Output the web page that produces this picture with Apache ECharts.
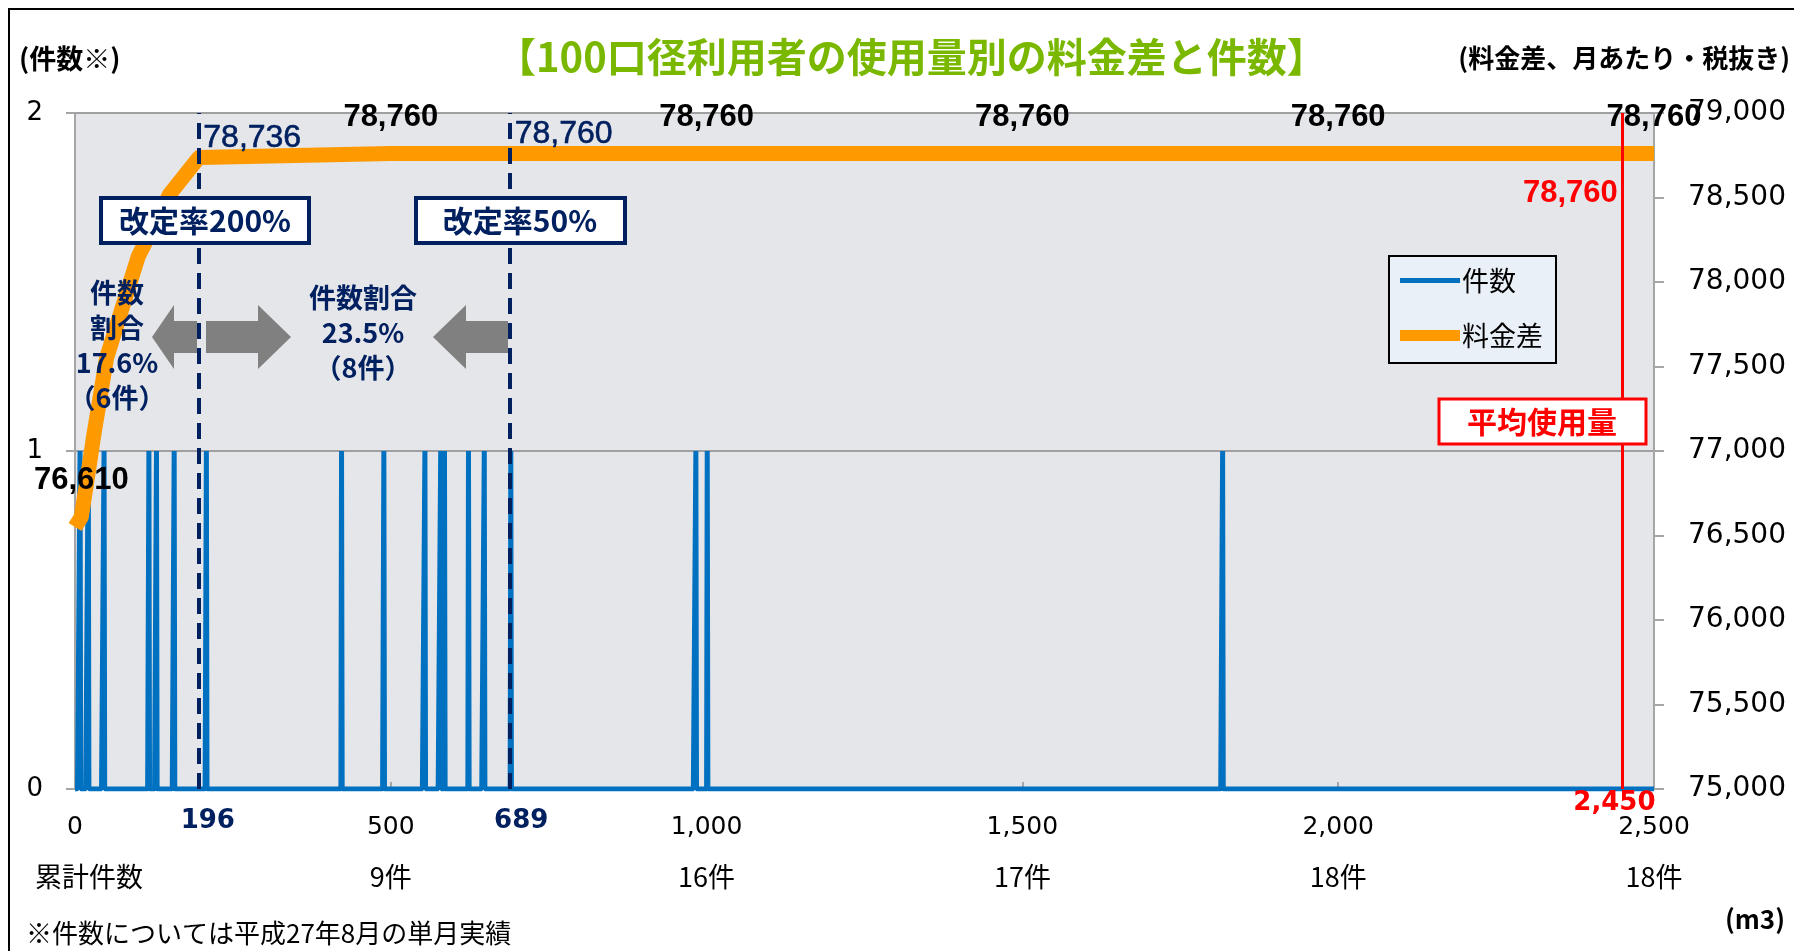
<!DOCTYPE html>
<html lang="ja">
<head>
<meta charset="utf-8">
<title>100口径利用者の使用量別の料金差と件数</title>
<script src="https://cdn.jsdelivr.net/npm/echarts@6/dist/echarts.min.js"></script>
<style>
  html, body { margin: 0; padding: 0; background: #fff; }
  #chart { width: 1794px; height: 951px; }
</style>
</head>
<body>
<div id="chart"></div>
<script>
// 件数：1件ずつ実績のあった使用量(m3)
const countUsage = [8, 21, 46, 117, 129, 157, 208, 422, 489, 554, 579, 585, 623, 648, 690, 983, 1001, 1817]
const usageMax = 2500

// 料金差（月あたり・税抜き）
const feeUsage = [0, 10, 20, 30, 50, 100, 150, 196, 500, 689, 1000, 1500, 2000, 2500]
const feeDiff = [76550, 76610, 76850, 77100, 77550, 78150, 78520, 78736, 78760, 78760, 78760, 78760, 78760, 78760]

// 軸の目盛と累計件数
const xTicks = [0, 500, 1000, 1500, 2000, 2500]
const cumCounts = ['累計件数', '9件', '16件', '17件', '18件', '18件']

// 改定率の境目と平均使用量
const rateLines = [196, 689]
const rateNames = ['改定率200%', '改定率50%']
const avgUsage = 2450
const avgFee = 78760

// ラベルを付ける点
const blackLabelAt = [10, 500, 1000, 1500, 2000, 2500]
const navyLabelAt = [196, 689]

const JP = "'Noto Sans CJK JP', sans-serif"
const NUM = "'DejaVu Sans', sans-serif"
const ARIAL = "'Liberation Sans', Arial, sans-serif"
const NAVY = '#002060'
const BLUE = '#0070C0'
const ORANGE = '#FF9900'
const GRAY = '#A6A6A6'

const fmt = v => v.toLocaleString('en-US')

// 件数は使用量ごとの件数（実績のない使用量は0件）
const countData = []
for (let u = 0; u <= usageMax; u++) countData.push([u, 0])
countUsage.forEach(u => { countData[u][1] += 1 })

const feeData = feeUsage.map((u, i) => {
  const item = { value: [u, feeDiff[i]] }
  if (blackLabelAt.includes(u)) {
    item.label = {
      show: true, position: 'top', distance: 20, formatter: fmt(feeDiff[i]),
      color: '#000', fontSize: 31, fontWeight: 'bold', fontFamily: ARIAL
    }
  }
  if (navyLabelAt.includes(u)) {
    item.label = {
      show: true, position: [5, -19], align: 'left', verticalAlign: 'middle',
      formatter: fmt(feeDiff[i]), color: NAVY, fontSize: 32, fontFamily: ARIAL,
      textBorderColor: NAVY, textBorderWidth: 0.6
    }
  }
  return item
})

const ratePad = [18, 22]
const rateMarks = rateLines.map((u, i) => ({
  xAxis: u,
  lineStyle: { color: NAVY, width: 4, type: [16, 9] },
  label: {
    show: true, position: 'start', distance: 19, formatter: fmt(u),
    color: NAVY, fontSize: 26, fontWeight: 'bold', fontFamily: NUM,
    padding: [0, 0, 0, ratePad[i]]
  }
}))
rateMarks.push({
  xAxis: avgUsage,
  lineStyle: { color: '#FF0000', width: 3, type: 'solid' },
  label: {
    show: true, position: 'start', distance: 1, formatter: fmt(avgUsage),
    color: '#FF0000', fontSize: 26, fontWeight: 'bold', fontFamily: NUM,
    padding: [0, 16, 0, 0]
  }
})

const chart = echarts.init(document.getElementById('chart'))

const option = {
  animation: false,
  title: [
    {
      text: '【100口径利用者の使用量別の料金差と件数】', left: 496, top: 37, padding: 0,
      textStyle: { color: '#7AB800', fontSize: 40, fontWeight: 'bold', fontFamily: JP }
    },
    {
      text: '(件数※)', left: 19, top: 45, padding: 0,
      textStyle: { color: '#000', fontSize: 27, fontWeight: 'bold', fontFamily: JP }
    },
    {
      text: '(料金差、月あたり・税抜き)', right: 4, top: 45, padding: 0,
      textStyle: { color: '#000', fontSize: 26, fontWeight: 'bold', fontFamily: JP }
    },
    {
      text: '(m3)', right: 9, top: 906, padding: 0,
      textStyle: { color: '#000', fontSize: 26, fontWeight: 'bold', fontFamily: JP }
    },
    {
      text: '※件数については平成27年8月の単月実績', left: 26, top: 920, padding: 0,
      textStyle: { color: '#000', fontSize: 26, fontWeight: 'normal', fontFamily: JP }
    }
  ],
  legend: {
    data: [
      { name: '件数', icon: 'path://M0,0H58V5H0Z' },
      { name: '料金差', icon: 'path://M0,0H60V11H0Z' }
    ],
    orient: 'vertical',
    left: 1389,
    top: 256,
    itemWidth: 60,
    itemHeight: 14,
    itemGap: 28,
    padding: [11, 13, 14, 11],
    backgroundColor: '#EAF0F7',
    borderColor: '#000',
    borderWidth: 2,
    selectedMode: false,
    textStyle: { color: '#000', fontSize: 27, fontFamily: JP, padding: [0, 0, 0, -3] }
  },
  grid: {
    left: 75, right: 140, top: 113, bottom: 162,
    show: true, backgroundColor: '#E5E6EA', borderWidth: 0,
    containLabel: false, outerBoundsMode: 'none'
  },
  xAxis: {
    type: 'value', min: 0, max: usageMax, interval: 500,
    axisLine: { show: true, lineStyle: { color: GRAY, width: 2 } },
    axisTick: { show: true, inside: true, length: 7, lineStyle: { color: GRAY, width: 2 } },
    splitLine: { show: false },
    axisLabel: {
      margin: 13, showMinLabel: true, showMaxLabel: true,
      formatter: v => {
        const i = xTicks.indexOf(v)
        const key = i === 0 ? 'c0' : 'c'
        return '{v|' + fmt(v) + '}\n{' + key + '|' + cumCounts[i] + '}'
      },
      rich: {
        v: { fontSize: 25, fontFamily: NUM, color: '#000', lineHeight: 50 },
        c: { fontSize: 27, fontFamily: JP, color: '#000', lineHeight: 50 },
        c0: { fontSize: 27, fontFamily: JP, color: '#000', lineHeight: 50, padding: [0, 0, 0, 28] }
      }
    }
  },
  yAxis: [
    {
      type: 'value', min: 0, max: 2, interval: 1, position: 'left',
      axisLine: { show: true, lineStyle: { color: GRAY, width: 2 } },
      axisTick: { show: true, length: 9, lineStyle: { color: GRAY, width: 2 } },
      splitLine: { show: true, lineStyle: { color: '#A0A0A0', width: 2 } },
      axisLabel: { color: '#000', fontSize: 26, fontFamily: NUM, margin: 32 }
    },
    {
      type: 'value', min: 75000, max: 79000, interval: 500, position: 'right',
      axisLine: { show: true, lineStyle: { color: GRAY, width: 2 } },
      axisTick: { show: true, length: 10, lineStyle: { color: GRAY, width: 2 } },
      splitLine: { show: false },
      axisLabel: { color: '#000', fontSize: 28, fontFamily: NUM, margin: 34, formatter: v => fmt(v) }
    }
  ],
  series: [
    {
      name: '件数',
      type: 'line',
      yAxisIndex: 0,
      data: countData,
      symbol: 'none',
      z: 2,
      itemStyle: { color: BLUE },
      lineStyle: { color: BLUE, width: 5, join: 'bevel' },
      markLine: {
        silent: true,
        symbol: ['none', 'none'],
        animation: false,
        lineStyle: { width: 4 },
        data: rateMarks
      }
    },
    {
      name: '料金差',
      type: 'line',
      yAxisIndex: 1,
      data: feeData,
      symbol: 'circle',
      symbolSize: 1,
      showSymbol: true,
      z: 3,
      itemStyle: { color: ORANGE },
      lineStyle: { color: ORANGE, width: 15, cap: 'butt', join: 'round' },
      markPoint: {
        silent: true,
        symbol: 'circle',
        symbolSize: 1,
        itemStyle: { color: 'rgba(0,0,0,0)' },
        label: {
          show: true, formatter: fmt(avgFee), offset: [-52, 40],
          color: '#FF0000', fontSize: 31, fontWeight: 'bold', fontFamily: ARIAL
        },
        data: [{ coord: [avgUsage, avgFee] }]
      }
    }
  ],
  graphic: [
    // 件数割合の矢印
    {
      type: 'polygon', z: 1, silent: true,
      shape: { points: [[152, 337], [174, 305], [174, 321], [197, 321], [197, 353], [174, 353], [174, 369]] },
      style: { fill: '#808080' }
    },
    {
      type: 'polygon', z: 1, silent: true,
      shape: { points: [[291, 337], [258, 305], [258, 321], [206, 321], [206, 353], [258, 353], [258, 369]] },
      style: { fill: '#808080' }
    },
    {
      type: 'polygon', z: 1, silent: true,
      shape: { points: [[433, 337], [466, 305], [466, 321], [508, 321], [508, 353], [466, 353], [466, 369]] },
      style: { fill: '#808080' }
    },
    {
      type: 'text', z: 20, silent: true, x: 117, y: 345,
      style: {
        text: '件数\n割合\n17.6%\n（6件）', fill: NAVY, fontSize: 27, fontWeight: 'bold',
        fontFamily: JP, align: 'center', verticalAlign: 'middle', lineHeight: 35
      }
    },
    {
      type: 'text', z: 20, silent: true, x: 363, y: 333,
      style: {
        text: '件数割合\n23.5%\n（8件）', fill: NAVY, fontSize: 27, fontWeight: 'bold',
        fontFamily: JP, align: 'center', verticalAlign: 'middle', lineHeight: 35
      }
    },
    // 改定率の枠
    {
      type: 'rect', z: 10, silent: true,
      shape: { x: 101, y: 198, width: 208, height: 45 },
      style: { fill: '#fff', stroke: NAVY, lineWidth: 4 }
    },
    {
      type: 'text', z: 11, silent: true, x: 205, y: 221,
      style: {
        text: rateNames[0], fill: NAVY, fontSize: 30, fontWeight: 'bold', fontFamily: JP,
        align: 'center', verticalAlign: 'middle'
      }
    },
    {
      type: 'rect', z: 10, silent: true,
      shape: { x: 416, y: 198, width: 209, height: 45 },
      style: { fill: '#fff', stroke: NAVY, lineWidth: 4 }
    },
    {
      type: 'text', z: 11, silent: true, x: 520, y: 221,
      style: {
        text: rateNames[1], fill: NAVY, fontSize: 30, fontWeight: 'bold', fontFamily: JP,
        align: 'center', verticalAlign: 'middle'
      }
    },
    // 平均使用量の枠
    {
      type: 'rect', z: 10, silent: true,
      shape: { x: 1439, y: 399, width: 207, height: 45 },
      style: { fill: '#fff', stroke: '#FF0000', lineWidth: 3 }
    },
    {
      type: 'text', z: 11, silent: true, x: 1542, y: 422,
      style: {
        text: '平均使用量', fill: '#FF0000', fontSize: 30, fontWeight: 'bold', fontFamily: JP,
        align: 'center', verticalAlign: 'middle'
      }
    },
    // 外枠
    {
      type: 'rect', z: 100, silent: true,
      shape: { x: 9, y: 9, width: 1800, height: 1000 },
      style: { fill: 'none', stroke: '#000', lineWidth: 2 }
    }
  ]
}

chart.setOption(option)
window.addEventListener('resize', () => chart.resize())
</script>
</body>
</html>
